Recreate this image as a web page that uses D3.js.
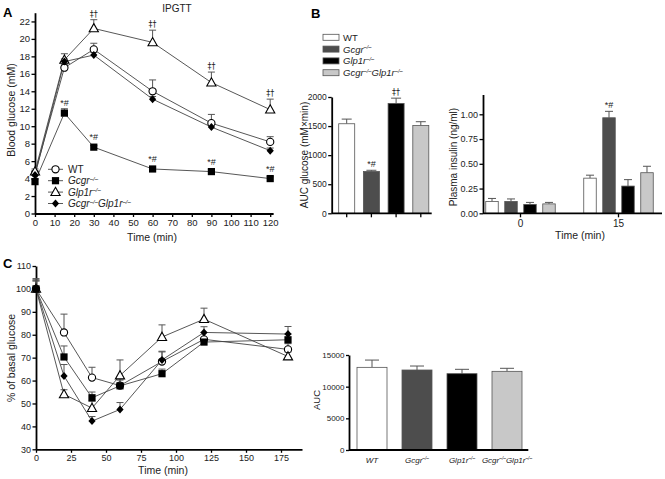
<!DOCTYPE html>
<html><head><meta charset="utf-8">
<script src="https://cdn.jsdelivr.net/npm/d3@7"></script>
<style>
body{margin:0;background:#fff}
text{font-family:"Liberation Sans",Arial,Helvetica,sans-serif;fill:#222;font-weight:400}
text.dag{font-family:"DejaVu Sans","Liberation Sans",sans-serif}
</style>
</head><body>
<svg id="c" width="665" height="479"></svg>
<script>
// ---------- DATA ----------
const genos = ["WT", "Gcgr", "Glp1r", "GG"];

// Panel A: IPGTT blood glucose (mM)
const timesA = [0, 15, 30, 60, 90, 120];
const wtA = [4.6, 16.7, 18.8, 14.0, 10.35, 8.2];
const wtAErr = [0.3, 0.4, 0.7, 1.3, 1.0, 0.6];
const gcgrA = [3.65, 11.5, 7.6, 5.1, 4.8, 4.0];
const gcgrAErr = [0.3, 0.5, 0.2, 0.2, 0.2, 0.2];
const glp1rA = [4.8, 17.6, 21.2, 19.6, 15.0, 11.9];
const glp1rAErr = [0.3, 0.7, 1.0, 1.4, 1.2, 1.2];
const ggA = [4.4, 17.4, 18.15, 13.1, 9.9, 7.2];
const ggAErr = [0.2, 0.3, 0.3, 0.3, 0.3, 0.3];
const sigGlp1rA = ["", "", "‡†", "‡†", "‡†", "‡†"];
const sigGcgrA = ["", "*#", "*#", "*#", "*#", "*#"];
const xTicksA = [0, 10, 20, 30, 40, 50, 60, 70, 80, 90, 100, 110, 120];
const yTicksA = [0, 2, 4, 6, 8, 10, 12, 14, 16, 18, 20, 22];

// Panel B: AUC glucose
const aucB = [1540, 720, 1890, 1510];
const aucBErr = [80, 20, 90, 65];
const aucBSig = ["", "*#", "‡†", ""];
const yTicksB1 = [0, 500, 1000, 1500, 2000];

// Panel B: plasma insulin
const insTimes = ["0", "15"];
const ins0 = [0.12, 0.12, 0.09, 0.095];
const ins0Err = [0.03, 0.025, 0.02, 0.015];
const ins15 = [0.355, 0.965, 0.275, 0.41];
const ins15Err = [0.03, 0.065, 0.065, 0.065];
const ins15Sig = ["", "*#", "", ""];
const yTicksB2 = [0, 0.25, 0.5, 0.75, 1.0];

// Panel C: ITT % of basal glucose
const timesC = [0, 20, 40, 60, 90, 120, 180];
const wtC = [100, 81, 61.3, 57.8, 68.3, 78, 73.6];
const wtCErr = [4.5, 8, 4.5, 3, 4.5, 3, 2.5];
const gcgrC = [100, 70.3, 52.5, 57.7, 63, 76.8, 77.8];
const gcgrCErr = [3.5, 4.8, 2.5, 2.5, 2, 1.5, 2.5];
const glp1rC = [100, 54, 48, 62.2, 79, 86.8, 70.5];
const glp1rCErr = [3.5, 2, 3, 6.8, 5.3, 4.8, 2];
const ggC = [100, 62, 42.3, 47.4, 69, 81, 80.3];
const ggCErr = [4, 5, 2, 3, 3.5, 2.5, 3.3];
const xTicksC = [0, 25, 50, 75, 100, 125, 150, 175];
const yTicksC = [30, 40, 50, 60, 70, 80, 90, 100, 110];

// Panel C: AUC
const aucC = [13050, 12630, 12050, 12420];
const aucCErr = [1150, 630, 690, 480];
const yTicksC2 = [0, 5000, 10000, 15000];

// ---------- STYLE ----------
const fill = {WT: "#ffffff", Gcgr: "#4d4d4d", Glp1r: "#000000", GG: "#c8c8c8"};
const marker = {WT: "circle", Gcgr: "square", Glp1r: "triangle", GG: "diamond"};

const svg = d3.select("#c");

function genoText(sel, key, fs, italWT) {
  const parts = {
    WT: [["WT", !!italWT, false]],
    Gcgr: [["Gcgr", true, false], ["–/–", true, true]],
    Glp1r: [["Glp1r", true, false], ["–/–", true, true]],
    GG: [["Gcgr", true, false], ["–/–", true, true], ["Glp1r", true, false], ["–/–", true, true]]
  }[key];
  let shifted = false;
  parts.forEach(([t, it, sup]) => {
    const ts = sel.append("tspan").text(t).attr("font-style", it ? "italic" : "normal");
    if (sup) { ts.attr("font-size", fs * 0.6).attr("dy", -fs * 0.35); shifted = true; }
    else if (shifted) { ts.attr("dy", fs * 0.35); shifted = false; }
  });
}

function drawMarker(g, type, x, y) {
  if (type === "circle") {
    g.append("circle").attr("cx", x).attr("cy", y).attr("r", 3.6)
      .attr("fill", "#fff").attr("stroke", "#000").attr("stroke-width", 1.1);
  } else if (type === "square") {
    g.append("rect").attr("x", x - 3.6).attr("y", y - 3.6).attr("width", 7.2).attr("height", 7.2)
      .attr("fill", "#000");
  } else if (type === "triangle") {
    g.append("path").attr("d", `M${x},${y - 4.8}L${x + 4.6},${y + 3.4}L${x - 4.6},${y + 3.4}Z`)
      .attr("fill", "#fff").attr("stroke", "#000").attr("stroke-width", 1.1);
  } else {
    g.append("path").attr("d", `M${x},${y - 4}L${x + 3.6},${y}L${x},${y + 4}L${x - 3.6},${y}Z`)
      .attr("fill", "#000");
  }
}

function styleAxis(g, fs) {
  g.selectAll(".domain").attr("stroke", "#000").attr("stroke-width", 1.8);
  g.selectAll(".tick line").attr("stroke", "#000").attr("stroke-width", 1.3);
  g.selectAll(".tick text").attr("font-size", fs);
}

function errBar(g, x, y0, y1, cap, color) {
  g.append("line").attr("x1", x).attr("x2", x).attr("y1", y0).attr("y2", y1)
    .attr("stroke", color).attr("stroke-width", 1);
  g.append("line").attr("x1", x - cap / 2).attr("x2", x + cap / 2).attr("y1", y1).attr("y2", y1)
    .attr("stroke", color).attr("stroke-width", 1);
}

function sigText(g, x, y, s) {
  g.append("text").attr("class", s.includes("‡") ? "dag" : null).attr("x", x).attr("y", y)
    .attr("text-anchor", "middle").attr("font-size", s.includes("‡") ? 8 : 9).text(s);
}

function lineChart(g, x, y, times, series, cap) {
  series.forEach(s => {
    const line = d3.line().x((d, i) => x(times[i])).y(d => y(d));
    g.append("path").datum(s.vals).attr("d", line).attr("fill", "none")
      .attr("stroke", "#444").attr("stroke-width", 0.9);
  });
  series.forEach(s => {
    s.vals.forEach((v, i) => errBar(g, x(times[i]), y(v), y(v + s.errs[i]), cap, "#555"));
  });
  series.forEach(s => {
    s.vals.forEach((v, i) => drawMarker(g, marker[s.key], x(times[i]), y(v)));
  });
}

// ---------- PANEL A ----------
{
  const g = svg.append("g");
  const x = d3.scaleLinear().domain([0, 121.5]).range([35, 35 + 121.5 * 1.96]);
  const y = d3.scaleLinear().domain([0, 23]).range([213.5, 213.5 - 23 * 8.73]);
  g.append("g").attr("transform", "translate(0,213.5)")
    .call(d3.axisBottom(x).tickValues(xTicksA).tickSize(3.5).tickSizeOuter(0).tickPadding(2))
    .call(a => styleAxis(a, 9.5));
  g.append("g").attr("transform", "translate(35,0)")
    .call(d3.axisLeft(y).tickValues(yTicksA).tickSize(3.5).tickSizeOuter(0).tickPadding(1.5))
    .call(a => styleAxis(a, 9.5));
  const series = [
    {key: "WT", vals: wtA, errs: wtAErr},
    {key: "Gcgr", vals: gcgrA, errs: gcgrAErr},
    {key: "Glp1r", vals: glp1rA, errs: glp1rAErr},
    {key: "GG", vals: ggA, errs: ggAErr}
  ];
  lineChart(g, x, y, timesA, series, 7);
  timesA.forEach((t, i) => {
    if (sigGlp1rA[i]) sigText(g, x(t), y(glp1rA[i] + glp1rAErr[i]) - 3, sigGlp1rA[i]);
    if (sigGcgrA[i]) sigText(g, x(t), y(gcgrA[i]) - 7, sigGcgrA[i]);
  });
  g.append("text").attr("x", 177).attr("y", 12).attr("text-anchor", "middle").attr("font-size", 10).text("IPGTT");
  g.append("text").attr("x", 3).attr("y", 17).attr("font-size", 13).style("font-weight", "bold").style("fill", "#000").text("A");
  g.append("text").attr("transform", "translate(15,110) rotate(-90)").attr("text-anchor", "middle")
    .attr("font-size", 10.5).text("Blood glucose (mM)");
  g.append("text").attr("x", 152).attr("y", 241).attr("text-anchor", "middle").attr("font-size", 10.5).text("Time (min)");
  // legend
  genos.forEach((k, i) => {
    const yy = 169.3 + i * 11.4;
    g.append("line").attr("x1", 48).attr("x2", 63).attr("y1", yy).attr("y2", yy).attr("stroke", "#444").attr("stroke-width", 0.9);
    drawMarker(g, marker[k], 55.5, yy);
    const t = g.append("text").attr("x", 68).attr("y", yy + 3.6).attr("font-size", 10);
    genoText(t, k, 10, false);
  });
}

// ---------- PANEL B ----------
{
  const g = svg.append("g");
  g.append("text").attr("x", 311).attr("y", 18).attr("font-size", 13).style("font-weight", "bold").style("fill", "#000").text("B");
  genos.forEach((k, i) => {
    const yy = 37.3 + i * 11.8;
    g.append("rect").attr("x", 323).attr("y", yy - 3).attr("width", 16).attr("height", 6)
      .attr("fill", fill[k]).attr("stroke", "#555").attr("stroke-width", 0.8);
    const t = g.append("text").attr("x", 343).attr("y", yy + 3.4).attr("font-size", 9.5);
    genoText(t, k, 9.5, false);
  });

  // AUC glucose
  const y1 = d3.scaleLinear().domain([0, 2000]).range([213.3, 97]);
  const x1 = d3.scaleBand().domain(genos).range([334.35, 433.15]).paddingInner(0.352).paddingOuter(0.176);
  genos.forEach((k, i) => {
    const cx = x1(k) + x1.bandwidth() / 2;
    errBar(g, cx, y1(aucB[i]), y1(aucB[i] + aucBErr[i]), 10, "#555");
    g.append("rect").attr("x", x1(k)).attr("y", y1(aucB[i])).attr("width", x1.bandwidth())
      .attr("height", y1(0) - y1(aucB[i])).attr("fill", fill[k]).attr("stroke", "#555").attr("stroke-width", 0.8);
    if (aucBSig[i]) sigText(g, cx, y1(aucB[i] + aucBErr[i]) - 3, aucBSig[i]);
  });
  g.append("g").attr("transform", "translate(331.7,0)")
    .call(d3.axisLeft(y1).tickValues(yTicksB1).tickSize(3.5).tickSizeOuter(0).tickPadding(1.5).tickFormat(d3.format("d")))
    .call(a => styleAxis(a, 8.5));
  const xa1 = g.append("g").attr("transform", "translate(0,213.3)")
    .call(d3.axisBottom(x1).tickSize(4).tickSizeOuter(0).tickFormat(""));
  styleAxis(xa1, 8);
  xa1.select(".domain").attr("d", "M331.7,0H431.7");
  g.append("text").attr("transform", "translate(308,155) rotate(-90)").attr("text-anchor", "middle")
    .attr("font-size", 10).text("AUC glucose (mM×min)");

  // Plasma insulin
  const y2 = d3.scaleLinear().domain([0, 1.2]).range([213.3, 213.3 - 1.2 * 99]);
  const xg = d3.scaleBand().domain(insTimes).range([471.5, 667.5]);
  const xi = d3.scaleBand().domain(genos).range([0, xg.bandwidth()]).paddingInner(0.342).paddingOuter(0.75);
  const insVals = {"0": [ins0, ins0Err, ["", "", "", ""]], "15": [ins15, ins15Err, ins15Sig]};
  insTimes.forEach(tp => {
    const [vals, errs, sig] = insVals[tp];
    genos.forEach((k, i) => {
      const bx = xg(tp) + xi(k);
      const cx = bx + xi.bandwidth() / 2;
      errBar(g, cx, y2(vals[i]), y2(vals[i] + errs[i]), 8, "#555");
      g.append("rect").attr("x", bx).attr("y", y2(vals[i])).attr("width", xi.bandwidth())
        .attr("height", y2(0) - y2(vals[i])).attr("fill", fill[k]).attr("stroke", "#555").attr("stroke-width", 0.8);
      if (sig[i]) sigText(g, cx, y2(vals[i] + errs[i]) - 3, sig[i]);
    });
  });
  g.append("g").attr("transform", "translate(483,0)")
    .call(d3.axisLeft(y2).tickValues(yTicksB2).tickSize(3.5).tickSizeOuter(0).tickPadding(1.5).tickFormat(d3.format(".2f")))
    .call(a => styleAxis(a, 9));
  const xa2 = g.append("g").attr("transform", "translate(0,213.3)")
    .call(d3.axisBottom(xg).tickSize(4).tickSizeOuter(0).tickPadding(3))
    .call(a => styleAxis(a, 10));
  xa2.select(".domain").attr("d", "M483,0H662");
  g.append("text").attr("transform", "translate(457,157) rotate(-90)").attr("text-anchor", "middle")
    .attr("font-size", 10).text("Plasma insulin (ng/ml)");
  g.append("text").attr("x", 580).attr("y", 239).attr("text-anchor", "middle").attr("font-size", 10.5).text("Time (min)");
}

// ---------- PANEL C ----------
{
  const g = svg.append("g");
  g.append("text").attr("x", 3).attr("y", 268).attr("font-size", 13).style("font-weight", "bold").style("fill", "#000").text("C");
  const x = d3.scaleLinear().domain([0, 190]).range([36, 36 + 190 * 1.4]);
  const y = d3.scaleLinear().domain([30, 110]).range([449.3, 266]);
  g.append("g").attr("transform", "translate(0,449.3)")
    .call(d3.axisBottom(x).tickValues(xTicksC).tickSize(3.5).tickSizeOuter(0).tickPadding(2))
    .call(a => styleAxis(a, 9));
  g.append("g").attr("transform", "translate(36,0)")
    .call(d3.axisLeft(y).tickValues(yTicksC).tickSize(3.5).tickSizeOuter(0).tickPadding(1.5))
    .call(a => styleAxis(a, 9));
  const series = [
    {key: "WT", vals: wtC, errs: wtCErr},
    {key: "Glp1r", vals: glp1rC, errs: glp1rCErr},
    {key: "GG", vals: ggC, errs: ggCErr},
    {key: "Gcgr", vals: gcgrC, errs: gcgrCErr}
  ];
  lineChart(g, x, y, timesC, series, 7);
  g.append("text").attr("transform", "translate(15,358) rotate(-90)").attr("text-anchor", "middle")
    .attr("font-size", 10.5).text("% of basal glucose");
  g.append("text").attr("x", 163).attr("y", 474).attr("text-anchor", "middle").attr("font-size", 10.5).text("Time (min)");

  // AUC bars
  const y2 = d3.scaleLinear().domain([0, 15000]).range([450, 355]);
  const x2 = d3.scaleBand().domain(genos).range([349.5, 529.5]).paddingInner(1 / 3).paddingOuter(1 / 6);
  genos.forEach((k, i) => {
    const cx = x2(k) + x2.bandwidth() / 2;
    errBar(g, cx, y2(aucC[i]), y2(aucC[i] + aucCErr[i]), 14, "#555");
    g.append("rect").attr("x", x2(k)).attr("y", y2(aucC[i])).attr("width", x2.bandwidth())
      .attr("height", y2(0) - y2(aucC[i])).attr("fill", fill[k]).attr("stroke", "#555").attr("stroke-width", 0.8);
  });
  g.append("g").attr("transform", "translate(349,0)")
    .call(d3.axisLeft(y2).tickValues(yTicksC2).tickSize(3).tickSizeOuter(0).tickPadding(1.5).tickFormat(d3.format("d")))
    .call(a => styleAxis(a, 8));
  const xa = g.append("g").attr("transform", "translate(0,450)")
    .call(d3.axisBottom(x2).tickSize(0).tickSizeOuter(0).tickFormat(""));
  styleAxis(xa, 8);
  xa.select(".domain").attr("d", "M349,0H528.3");
  genos.forEach(k => {
    const t = g.append("text").attr("x", x2(k) + x2.bandwidth() / 2).attr("y", 462.5)
      .attr("text-anchor", "middle").attr("font-size", 8);
    genoText(t, k, 8, true);
  });
  g.append("text").attr("transform", "translate(320,400) rotate(-90)").attr("text-anchor", "middle")
    .attr("font-size", 9.5).text("AUC");
}
</script>
</body></html>
